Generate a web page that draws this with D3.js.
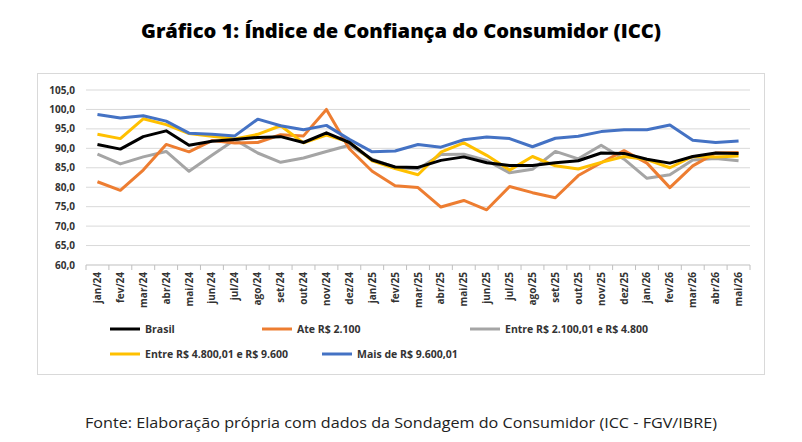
<!DOCTYPE html><html><head><meta charset="utf-8"><script src="https://cdn.jsdelivr.net/npm/d3@7"></script>
<style>body{margin:0;background:#fff;font-family:"Open Sans",Roboto,sans-serif}</style></head><body><svg width="802" height="442"></svg><script>
const months=["jan/24","fev/24","mar/24","abr/24","mai/24","jun/24","jul/24","ago/24","set/24","out/24","nov/24","dez/24","jan/25","fev/25","mar/25","abr/25","mai/25","jun/25","jul/25","ago/25","set/25","out/25","nov/25","dez/25","jan/26","fev/26","mar/26","abr/26","mai/26"];
const brasil=[91,89.8,93,94.5,90.8,91.8,92.3,92.8,93,91.5,94,91.5,87,85.2,85.1,86.9,87.8,86.3,85.6,85.6,86.3,86.8,88.8,88.7,87.2,86.2,87.9,88.8,88.7];
const ate2100=[81.4,79.2,84.4,91,89.1,92,91.4,91.5,93.5,93.2,100,89.9,84.1,80.4,79.9,74.9,76.6,74.2,80.2,78.6,77.3,83,86.3,89.4,86.2,79.9,85.5,88.8,88.9];
const f2100_4800=[88.5,86,87.8,89.2,84.1,88.2,92.2,88.8,86.4,87.5,89.2,90.8,87.2,85.1,84.7,88.4,88.5,86.9,83.7,84.6,89.2,87.3,90.8,87.2,82.3,83.2,87,87.4,86.8];
const f4800_9600=[93.6,92.5,97.6,96.1,93.8,93.1,92.4,93.6,95.8,91.4,93.4,91.6,86.8,84.8,83.2,89,91.4,88.2,84.4,87.9,85.5,84.7,86.4,87.9,87.1,85,87.9,87.8,88];
const mais9600=[98.7,97.8,98.4,97,93.9,93.6,93.2,97.5,95.8,94.8,95.9,92.3,89.1,89.3,91,90.3,92.2,92.9,92.5,90.4,92.6,93.1,94.3,94.8,94.8,96,92.1,91.5,91.9];
const yTicks=[60,65,70,75,80,85,90,95,100,105];
const series=[
 {name:"Brasil",v:brasil,c:"#000000"},
 {name:"Ate R$ 2.100",v:ate2100,c:"#ED7D31"},
 {name:"Entre R$ 2.100,01 e R$ 4.800",v:f2100_4800,c:"#A5A5A5"},
 {name:"Entre R$ 4.800,01 e R$ 9.600",v:f4800_9600,c:"#FFC000"},
 {name:"Mais de R$ 9.600,01",v:mais9600,c:"#4472C4"}];
const svg=d3.select("svg");
svg.append("text").attr("x",401).attr("y",38).attr("text-anchor","middle").attr("font-weight",800).attr("font-size",19).attr("font-family","'Open Sans',sans-serif").attr("textLength",520).attr("lengthAdjust","spacingAndGlyphs").text("Gráfico 1: Índice de Confiança do Consumidor (ICC)");
svg.append("rect").attr("x",37.5).attr("y",73.5).attr("width",727).attr("height",301).attr("fill","none").attr("stroke","#d9d9d9");
const x=d3.scaleBand().domain(months).range([86,750]);
const y=d3.scaleLinear().domain([60,105]).range([265,90]);
const g=svg.append("g");
g.selectAll("line.g").data(yTicks.slice(1)).join("line").attr("x1",86).attr("x2",750).attr("y1",d=>y(d)).attr("y2",d=>y(d)).attr("stroke","#d9d9d9");
g.append("line").attr("x1",86).attr("x2",750).attr("y1",y(60)).attr("y2",y(60)).attr("stroke","#bfbfbf");
g.selectAll("text.y").data(yTicks).join("text").attr("x",75).attr("y",d=>y(d)+3.5).attr("text-anchor","end").attr("font-size",10).attr("font-weight","bold").attr("fill","#333").text(d=>d.toFixed(1).replace(".",","));
g.selectAll("line.t").data(months.concat([""])).join("line").attr("x1",(d,i)=>86+i*x.step()).attr("x2",(d,i)=>86+i*x.step()).attr("y1",265).attr("y2",270).attr("stroke","#bfbfbf");
g.selectAll("text.x").data(months).join("text").attr("transform",d=>`translate(${x(d)+x.bandwidth()/2+3.5},272) rotate(-90)`).attr("text-anchor","end").attr("font-size",10).attr("font-weight","bold").attr("fill","#333").text(d=>d);
const line=d3.line().x((d,i)=>x(months[i])+x.bandwidth()/2).y(d=>y(d));
[2,1,3,4,0].forEach(k=>{const s=series[k];g.append("path").attr("d",line(s.v)).attr("fill","none").attr("stroke",s.c).attr("stroke-width",3).attr("stroke-linejoin","round");});
const leg=[[110,329],[262,329],[470,329],[110,354],[322,354]];
series.forEach((s,i)=>{const [lx,ly]=leg[i];
 svg.append("line").attr("x1",lx).attr("x2",lx+30).attr("y1",ly).attr("y2",ly).attr("stroke",s.c).attr("stroke-width",3);
 svg.append("text").attr("x",lx+35).attr("y",ly+4).attr("font-size",10.5).attr("font-weight","bold").attr("fill","#333").text(s.name);});
svg.append("text").attr("x",401).attr("y",428).attr("text-anchor","middle").attr("font-size",14.5).attr("font-family","'Open Sans',sans-serif").attr("fill","#222").attr("textLength",632).attr("lengthAdjust","spacingAndGlyphs").text("Fonte: Elaboração própria com dados da Sondagem do Consumidor (ICC - FGV/IBRE)");
</script></body></html>
